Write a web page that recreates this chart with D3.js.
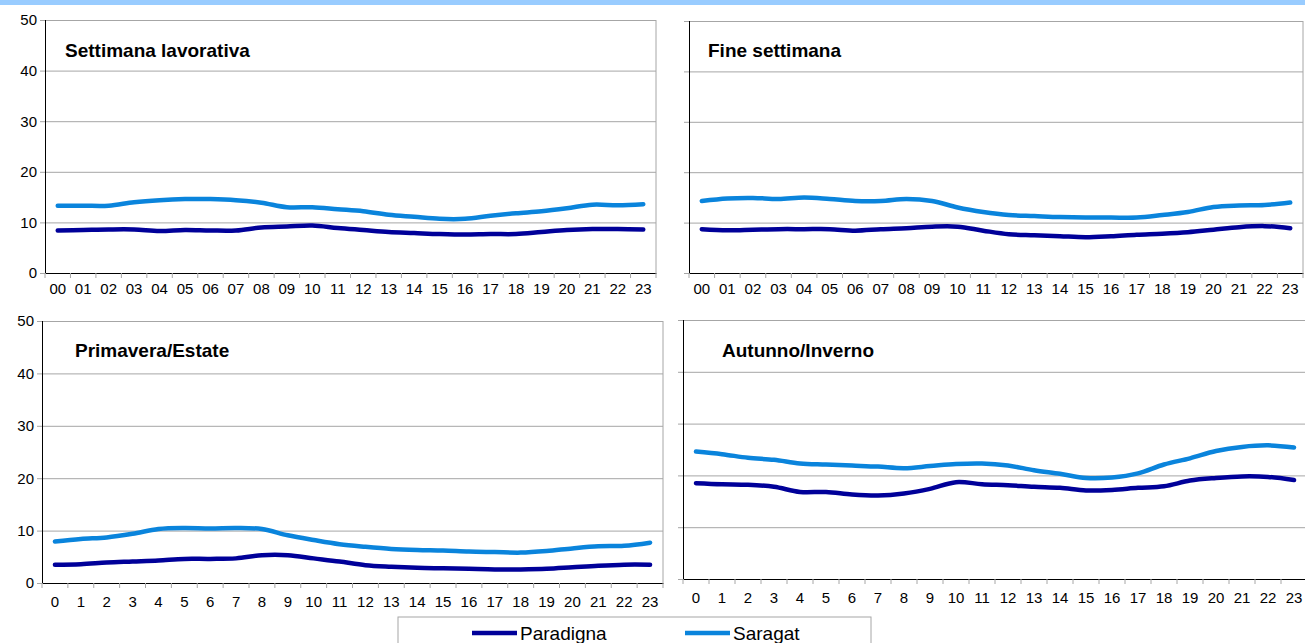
<!DOCTYPE html>
<html>
<head>
<meta charset="utf-8">
<script src="https://cdn.jsdelivr.net/npm/d3@7"></script>
<style>
  body { margin: 0; background: #fff; }
  svg { display: block; font-family: "Liberation Sans", Arial, sans-serif; }
  .grid line { stroke: #a6a6a6; stroke-width: 1; }
  .grid path { display: none; }
  .tick text { fill: #000; }
</style>
</head>
<body>
<div id="chart"></div>
<script>
// tick labels
var hoursPadded = ["00","01","02","03","04","05","06","07","08","09","10","11","12","13","14","15","16","17","18","19","20","21","22","23"];
var hours = ["0","1","2","3","4","5","6","7","8","9","10","11","12","13","14","15","16","17","18","19","20","21","22","23"];
var yTicks = [0, 10, 20, 30, 40, 50];

// series names
var seriesNames = ["Paradigna", "Saragat"];

// settimana lavorativa
var weekdayParadigna = [8.4,8.5,8.6,8.6,8.3,8.5,8.4,8.4,9.0,9.2,9.4,8.9,8.5,8.1,7.9,7.7,7.6,7.7,7.7,8.1,8.5,8.7,8.7,8.6];
var weekdaySaragat = [13.3,13.3,13.3,14.0,14.4,14.6,14.6,14.4,13.9,13.0,13.0,12.6,12.2,11.5,11.1,10.7,10.7,11.3,11.8,12.2,12.8,13.5,13.4,13.6];

// fine settimana
var weekendParadigna = [8.7,8.5,8.6,8.7,8.7,8.7,8.4,8.7,8.9,9.2,9.2,8.4,7.7,7.5,7.3,7.1,7.3,7.6,7.8,8.1,8.6,9.1,9.3,8.9];
var weekendSaragat = [14.3,14.8,14.9,14.7,15.0,14.7,14.3,14.3,14.7,14.3,13.0,12.1,11.5,11.3,11.1,11.0,11.0,11.0,11.5,12.1,13.1,13.4,13.5,14.0];

// primavera/estate
var springParadigna = [3.5,3.6,3.9,4.1,4.3,4.6,4.6,4.7,5.3,5.3,4.7,4.1,3.4,3.1,2.9,2.8,2.7,2.6,2.6,2.7,3.0,3.3,3.5,3.5];
var springSaragat = [7.9,8.4,8.7,9.4,10.3,10.5,10.4,10.5,10.3,9.1,8.2,7.4,6.9,6.5,6.3,6.2,6.0,5.9,5.8,6.1,6.6,7.0,7.1,7.7];

// autunno/inverno
var autumnParadigna = [18.5,18.3,18.2,17.8,16.8,16.8,16.3,16.1,16.5,17.4,18.7,18.3,18.1,17.8,17.6,17.1,17.2,17.6,17.9,19.0,19.5,19.8,19.7,19.1];
var autumnSaragat = [24.6,24.1,23.4,23.0,22.3,22.1,21.9,21.7,21.4,21.8,22.2,22.3,21.9,21.0,20.3,19.5,19.6,20.4,22.1,23.3,24.7,25.5,25.8,25.4];

var colors = { "Paradigna": "#000099", "Saragat": "#0a84dc" };

var svg = d3.select("#chart").append("svg")
    .attr("width", 1305)
    .attr("height", 643);

// top band
svg.append("rect")
    .attr("x", 0).attr("y", 0)
    .attr("width", 1305).attr("height", 5)
    .style("fill", "#99ccff");

var panels = [
  {left: 45, right: 656, top: 20, bottom: 273, labels: hoursPadded, showY: true, labelPad: 10,
   title: "Settimana lavorativa", tx: 65, ty: 57, p: weekdayParadigna, s: weekdaySaragat},
  {left: 689, right: 1303, top: 21, bottom: 273, labels: hoursPadded, showY: false, labelPad: 10,
   title: "Fine settimana", tx: 708, ty: 57, p: weekendParadigna, s: weekendSaragat},
  {left: 42, right: 663, top: 321, bottom: 583, labels: hours, showY: true, labelPad: 13,
   title: "Primavera/Estate", tx: 75, ty: 357, p: springParadigna, s: springSaragat},
  {left: 683, right: 1307, top: 320, bottom: 579, labels: hours, showY: false, labelPad: 13,
   title: "Autunno/Inverno", tx: 722, ty: 357, p: autumnParadigna, s: autumnSaragat}
];

panels.forEach(function(pn) {
    var width = pn.right - pn.left,
        height = pn.bottom - pn.top;

    var x = d3.scaleBand()
        .domain(pn.labels)
        .range([0, width]);

    var y = d3.scaleLinear()
        .domain([0, 50])
        .range([height, 0]);

    var g = svg.append("g")
        .attr("transform", "translate(" + pn.left + "," + pn.top + ")");

    // gridlines
    g.append("g")
        .attr("class", "grid")
        .call(d3.axisLeft(y).tickValues(yTicks.slice(1)).tickSize(-width).tickFormat(""));

    // right border
    g.append("line")
        .attr("x1", width).attr("x2", width)
        .attr("y1", 0).attr("y2", height)
        .style("stroke", "#a6a6a6");

    // y axis
    var yAxis = g.append("g")
        .call(d3.axisLeft(y).tickValues(yTicks).tickSize(5).tickPadding(3)
            .tickFormat(pn.showY ? d3.format("d") : ""));
    yAxis.select(".domain").style("stroke", "#000").attr("d", "M0.5," + height + "V0");
    yAxis.selectAll(".tick line").style("stroke", "#a6a6a6");
    yAxis.selectAll("text").style("font-size", "15px");

    // x axis labels
    var xAxis = g.append("g")
        .attr("transform", "translate(0," + height + ")")
        .call(d3.axisBottom(x).tickSize(0).tickPadding(pn.labelPad));
    xAxis.select(".domain").style("stroke", "#000");
    xAxis.selectAll("text").style("font-size", "15px");

    // x ticks at category boundaries
    var bounds = pn.labels.map(function(d) { return x(d); }).concat([width]);
    g.selectAll(".xtick")
        .data(bounds)
        .enter().append("line")
            .attr("class", "xtick")
            .attr("x1", function(d) { return d; })
            .attr("x2", function(d) { return d; })
            .attr("y1", height)
            .attr("y2", height + 5)
            .style("stroke", "#a6a6a6");

    // lines
    var line = d3.line()
        .x(function(d, i) { return x(pn.labels[i]) + x.bandwidth() / 2; })
        .y(function(d) { return y(d); })
        .curve(d3.curveCatmullRom.alpha(0));

    [[pn.p, "Paradigna"], [pn.s, "Saragat"]].forEach(function(sr) {
        g.append("path")
            .datum(sr[0])
            .attr("d", line)
            .style("fill", "none")
            .style("stroke", colors[sr[1]])
            .style("stroke-width", 4.5)
            .style("stroke-linecap", "round")
            .style("stroke-linejoin", "round");
    });

    // panel title
    svg.append("text")
        .attr("x", pn.tx)
        .attr("y", pn.ty)
        .style("font-size", "19px")
        .style("font-weight", "bold")
        .text(pn.title);
});

// legend
var legend = svg.append("g");
legend.append("rect")
    .attr("x", 398).attr("y", 617)
    .attr("width", 473).attr("height", 40)
    .style("fill", "#fff")
    .style("stroke", "#a6a6a6");

var legendX = d3.scalePoint()
    .domain(seriesNames)
    .range([472, 685]);

var item = legend.selectAll(".item")
    .data(seriesNames)
    .enter().append("g")
        .attr("class", "item")
        .attr("transform", function(d) { return "translate(" + legendX(d) + ",633)"; });

item.append("line")
    .attr("x1", 0).attr("x2", 45)
    .style("stroke", function(d) { return colors[d]; })
    .style("stroke-width", 4.5);

item.append("text")
    .attr("x", 48)
    .attr("y", 7)
    .style("font-size", "19px")
    .text(function(d) { return d; });
</script>
</body>
</html>
